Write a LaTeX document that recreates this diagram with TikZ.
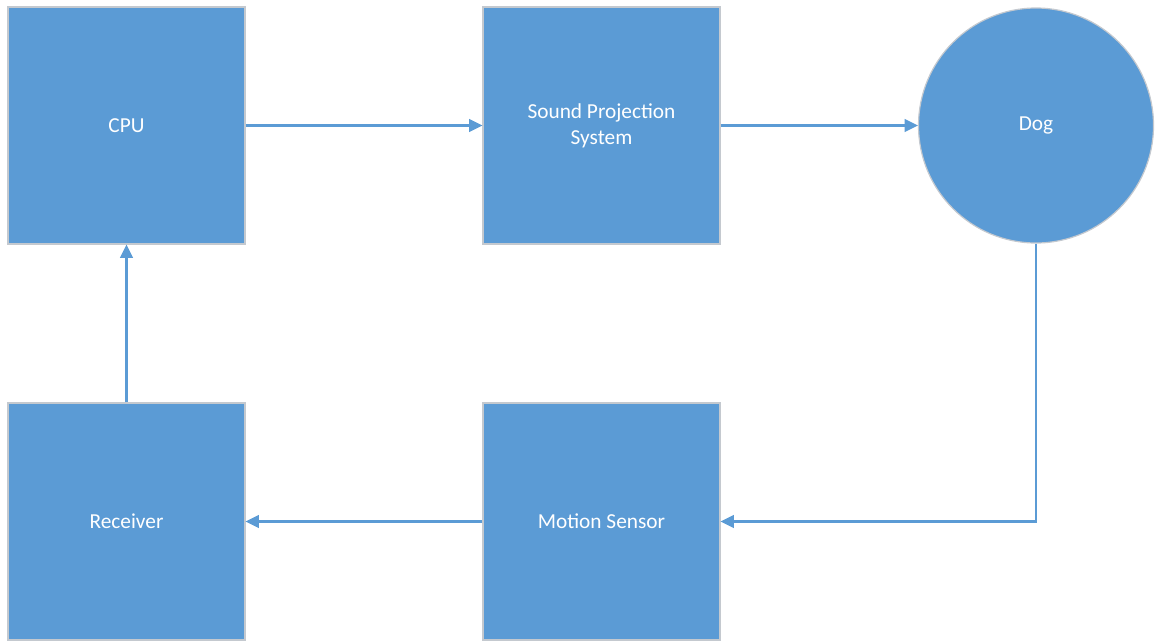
\documentclass[tikz,border=0pt]{standalone}
\usepackage{fontspec}
\setmainfont{Carlito}
\usetikzlibrary{arrows.meta}
\definecolor{blockblue}{HTML}{5B9BD5}
\definecolor{blockedge}{HTML}{C4C9CF}
\newcommand{\px}{0.75pt}
\tikzset{
  block/.style={rectangle,fill=blockblue,draw=blockedge,line width=0.9pt,
    minimum width=237*\px,minimum height=237*\px,inner sep=0pt,
    text=white,align=center,font=\fontsize{16}{19.5}\selectfont},
  roundblock/.style={block,circle,minimum size=235*\px},
  link/.style={draw=blockblue,line width=1.6pt,-{Triangle[length=10pt,width=9.5pt]}}
}

\begin{document}
\begin{tikzpicture}[x=\px,y=-\px]
        \useasboundingbox (0,0) rectangle (1155,640);

        \node[block] (cpu) at (126.5,125.5) {CPU};
        \node[block] (sound) at (601.5,125.5) {Sound Projection\\System};
        \node[roundblock] (dog) at (1036,125.5) {Dog};
        \node[block] (receiver) at (126.5,521.5) {Receiver};
        \node[block] (motion) at (601.5,521.5) {Motion Sensor};

        \draw[link] (cpu) -- (sound);
        \draw[link] (sound) -- (dog);
        \draw[link] (dog.south) |- (motion.east);
        \draw[link] (motion) -- (receiver);
        \draw[link] (receiver) -- (cpu);

    \end{tikzpicture}
\end{document}
